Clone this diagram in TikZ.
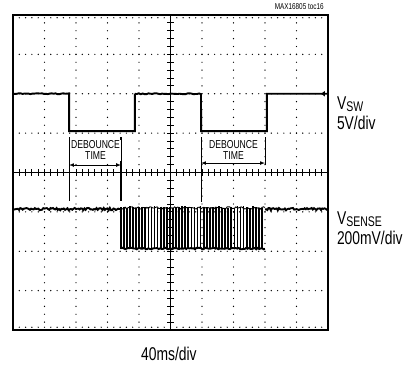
\documentclass[tikz,border=0pt]{standalone}
\usepackage{fontspec}
\setmainfont{Liberation Sans}[FakeStretch=0.75]
\newcommand{\chsub}[1]{\raisebox{-2pt}{\fontsize{14}{14}\selectfont #1}}

\begin{document}
\begin{tikzpicture}[x=31.5pt,y=39.375pt,
  trace/.style={line width=1.9pt},
  dotline/.style={line width=1.4pt,line cap=round},
  dbline/.style={line width=0.7pt},
  lbl/.style={font=\fontsize{18.5}{19}\selectfont,inner sep=0pt,anchor=base west},
  dbtext/.style={font=\fontsize{11.5}{11}\selectfont,align=center,fill=white,inner sep=1pt}]
  \useasboundingbox (-0.4127,-0.8889) rectangle (12.508,8.381);
  % Rutnat
  \foreach \y in {1,2,3,5,6,7}
    \draw[dotline,dash pattern=on 0pt off 6.3pt] (0,\y) -- (10,\y);
  \foreach \x in {1,2,3,4,6,7,8,9}
    \draw[dotline,dash pattern=on 0pt off 7.875pt] (\x,0) -- (\x,8);
  \draw[dotline,dash pattern=on 0pt off 6.3pt] (0,0.07) -- (10,0.07);
  \draw[dotline,dash pattern=on 0pt off 6.3pt] (0,7.93) -- (10,7.93);
  % Mittaxlar
  \draw[line width=0.9pt] (0,4) -- (10,4);
  \draw[line width=0.9pt] (5,0) -- (5,8);
  \foreach \i in {1,...,49}
    \draw[line width=0.9pt] (\i/5,3.92) -- (\i/5,4.08);
  \foreach \i in {1,...,39}
    \draw[line width=0.9pt] (4.9,\i/5) -- (5.1,\i/5);
  % V_SW
  \pgfmathsetseed{7}
  \draw[trace] plot[domain=0:1.78,samples=30] (\x,{6+0.012*rand}) -- (1.78,5.05)
    -- (3.87,5.05) -- (3.87,6);
  \draw[trace] plot[domain=3.87:5.97,samples=35] (\x,{6+0.012*rand}) -- (5.97,5.05)
    -- (8.06,5.05) -- (8.06,6) -- (10,6);
  \fill (9.78,6) -- (9.9,6.07) -- (9.9,5.93) -- cycle;
  % V_SENSE
  \draw[trace] plot[domain=0:3.42,samples=90] (\x,{3.07+0.03*rand});
  \draw[trace] plot[domain=8.0:10,samples=55] (\x,{3.07+0.03*rand});
  \draw[line width=0.9pt] plot[domain=3.42:8.0,samples=100] (\x,{3.1+0.03*rand});
  \draw[trace] plot[domain=3.42:8.0,samples=100] (\x,{2.07+0.02*rand});
  \foreach \i in {0,...,46}
    \draw[line width=1.7pt] ({3.42+\i*0.0975},2.05) -- ({3.42+\i*0.0975},{3.12+0.03*rand});
  % Debounce
  \coordinate (db1l) at (1.78,4.19);
  \coordinate (db1r) at (3.43,4.19);
  \coordinate (db2l) at (5.97,4.24);
  \coordinate (db2r) at (8.0,4.24);
  \draw[dbline] (1.78,4.90) -- (1.78,3.28);
  \draw[line width=1.3pt] (3.43,4.90) -- (3.43,3.28);
  \draw[dbline] (5.97,4.90) -- (5.97,3.24);
  \draw[dbline] (8.0,4.90) -- (8.0,4.19);
  \draw[dbline,<->,>=latex] (db1l) -- (db1r);
  \draw[dbline,<->,>=latex] (db2l) -- (db2r);
  \node[dbtext] (db1) at (2.62,4.56) {DEBOUNCE\\TIME};
  \node[dbtext] (db2) at (7.0,4.56) {DEBOUNCE\\TIME};
  % Ram
  \draw[line width=2.5pt] (0,0) rectangle (10,8);
  % Texter
  \node[lbl] (vsw) at (10.28,5.59) {V\chsub{SW}};
  \node[lbl] (vswdiv) at (10.28,5.08) {5V/div};
  \node[lbl] (vsense) at (10.28,2.667) {V\chsub{SENSE}};
  \node[lbl] (vsensediv) at (10.28,2.159) {200mV/div};
  \node[font=\fontsize{18.5}{19}\selectfont,inner sep=0pt,anchor=base] (tdiv) at (4.95,-0.787) {40ms/div};
  \node[font=\fontsize{8.5}{9}\selectfont,inner sep=0pt,anchor=base east] (toc) at (9.87,8.14) {MAX16805 toc16};
\end{tikzpicture}
\end{document}
